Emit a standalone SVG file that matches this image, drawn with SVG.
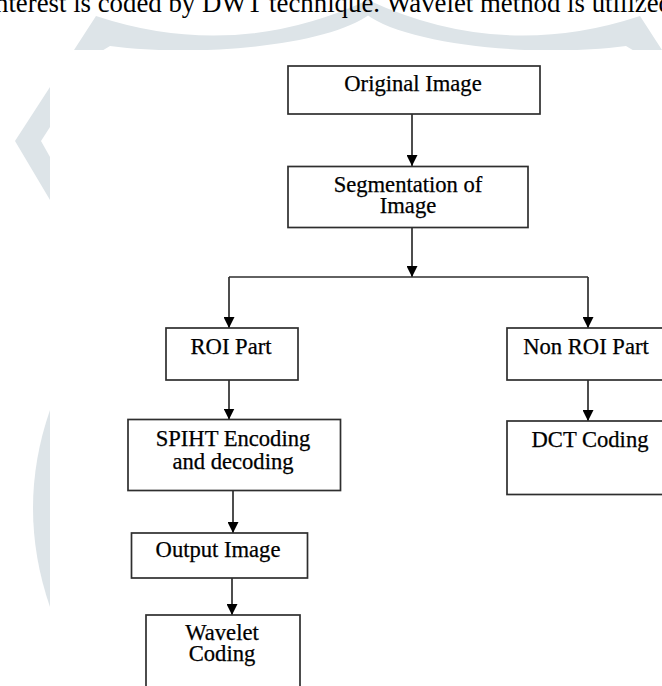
<svg xmlns="http://www.w3.org/2000/svg" width="662" height="686" viewBox="0 0 662 686">
  <style>
    .wm { fill: #dde4e8; stroke: none; }
    .box { fill: #ffffff; stroke: #2e2e2e; stroke-width: 1.7; }
    .lbl { font-family: "Liberation Serif", "Times New Roman", serif; font-size: 22.6px; fill: #000; stroke: #000; stroke-width: 0.25; text-anchor: middle; }
    .hdr { font-family: "Liberation Serif", "Times New Roman", serif; font-size: 26.8px; fill: #000; }
    .conn { fill: none; stroke: #2e2e2e; stroke-width: 1.7; }
  </style>
  <defs>
    <marker id="arrow" markerUnits="userSpaceOnUse" markerWidth="11" markerHeight="11" viewBox="0 0 10 10" refX="10" refY="5" orient="auto">
      <path d="M0,0 L10,5 L0,10 Z" fill="#000"/>
    </marker>
  </defs>

  <rect x="0" y="0" width="662" height="686" fill="#ffffff"/>

  <g id="watermark">
    <path class="wm" d="M74,50 L96,16 Q235,62 368,0 L370,14 C330,45 200,58 110,46 L100,52 L74,52 Z"/>
    <path class="wm" d="M662,50 L640,16 Q501,62 368,0 L366,14 C406,45 536,58 626,46 L636,52 L662,52 Z"/>
    <path class="wm" d="M50,87 L15,141 L50,200 L50,157 L41,141 L50,127 Z"/>
    <path class="wm" d="M50,410 Q16,508 50,607 Z"/>
  </g>

  <rect x="50" y="50" width="612" height="636" fill="#ffffff"/>

  <text class="hdr" x="-5" y="12">nterest is coded by DWT technique. Wavelet method is utilized</text>

  <g id="connectors">
    <line class="conn" x1="412" y1="114" x2="412" y2="166" marker-end="url(#arrow)"/>
    <line class="conn" x1="412" y1="227" x2="412" y2="277" marker-end="url(#arrow)"/>
    <line class="conn" x1="229" y1="277" x2="588" y2="277"/>
    <line class="conn" x1="229" y1="277" x2="229" y2="328" marker-end="url(#arrow)"/>
    <line class="conn" x1="588" y1="277" x2="588" y2="328" marker-end="url(#arrow)"/>
    <line class="conn" x1="229" y1="380" x2="229" y2="419.5" marker-end="url(#arrow)"/>
    <line class="conn" x1="588" y1="380" x2="588" y2="421" marker-end="url(#arrow)"/>
    <line class="conn" x1="233" y1="490.5" x2="233" y2="533" marker-end="url(#arrow)"/>
    <line class="conn" x1="232" y1="578" x2="232" y2="615" marker-end="url(#arrow)"/>
  </g>

  <g id="original-image">
    <rect class="box" x="288" y="66" width="252" height="48"/>
    <text class="lbl" x="413" y="91">Original Image</text>
  </g>

  <g id="segmentation">
    <rect class="box" x="288" y="166.5" width="240" height="61"/>
    <text class="lbl" x="408" y="192">Segmentation of</text>
    <text class="lbl" x="408" y="213">Image</text>
  </g>

  <g id="roi-part">
    <rect class="box" x="166" y="328" width="132" height="52"/>
    <text class="lbl" x="231" y="354">ROI Part</text>
  </g>

  <g id="non-roi-part">
    <rect class="box" x="507" y="328" width="160" height="52"/>
    <text class="lbl" x="586" y="354">Non ROI Part</text>
  </g>

  <g id="spiht">
    <rect class="box" x="128" y="419.5" width="212.5" height="71"/>
    <text class="lbl" x="233" y="446">SPIHT Encoding</text>
    <text class="lbl" x="233" y="469">and decoding</text>
  </g>

  <g id="dct-coding">
    <rect class="box" x="507" y="421" width="160" height="73.5"/>
    <text class="lbl" x="590" y="447">DCT Coding</text>
  </g>

  <g id="output-image">
    <rect class="box" x="131.5" y="533" width="176" height="45"/>
    <text class="lbl" x="218" y="557">Output Image</text>
  </g>

  <g id="wavelet-coding">
    <rect class="box" x="146" y="615" width="154" height="80"/>
    <text class="lbl" x="222" y="640">Wavelet</text>
    <text class="lbl" x="222" y="661">Coding</text>
  </g>
</svg>
